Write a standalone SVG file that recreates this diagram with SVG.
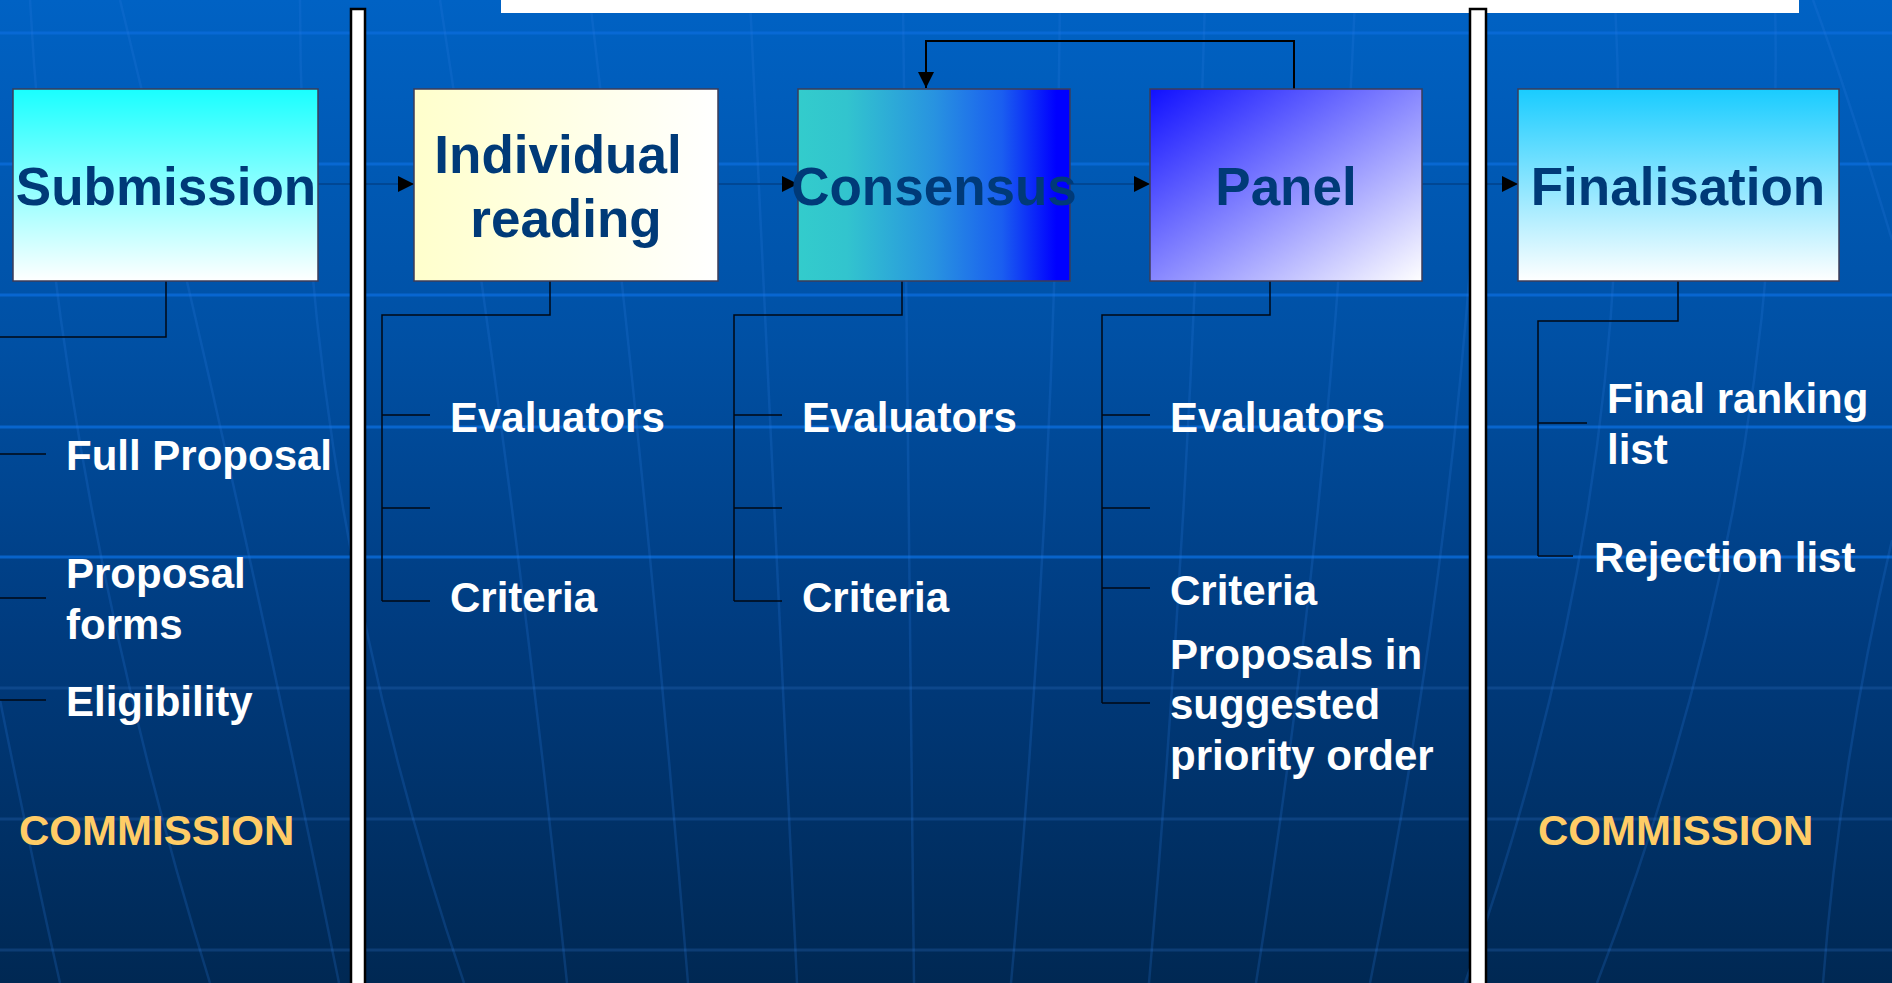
<svg xmlns="http://www.w3.org/2000/svg" width="1892" height="983" viewBox="0 0 1892 983">
  <defs>
    <linearGradient id="bg" x1="0" y1="0" x2="0" y2="1">
      <stop offset="0" stop-color="#0062C4"/>
      <stop offset="0.35" stop-color="#0050A4"/>
      <stop offset="0.65" stop-color="#003B7E"/>
      <stop offset="1" stop-color="#002853"/>
    </linearGradient>
    <linearGradient id="gSub" x1="0" y1="0" x2="0" y2="1">
      <stop offset="0" stop-color="#19FFFF"/>
      <stop offset="1" stop-color="#FFFFFF"/>
    </linearGradient>
    <linearGradient id="gInd" x1="0" y1="0" x2="1" y2="0">
      <stop offset="0" stop-color="#FFFFCC"/>
      <stop offset="1" stop-color="#FFFFFF"/>
    </linearGradient>
    <linearGradient id="gCon" x1="0" y1="0" x2="1" y2="0">
      <stop offset="0" stop-color="#33CCCC"/>
      <stop offset="0.18" stop-color="#32C4CE"/>
      <stop offset="0.5" stop-color="#2893E0"/>
      <stop offset="0.75" stop-color="#1A5EF0"/>
      <stop offset="0.95" stop-color="#0000FF"/>
      <stop offset="1" stop-color="#0000FF"/>
    </linearGradient>
    <linearGradient id="gPan" x1="0" y1="0" x2="1" y2="1">
      <stop offset="0" stop-color="#1010FF"/>
      <stop offset="1" stop-color="#FFFFFF"/>
    </linearGradient>
    <linearGradient id="gFin" x1="0" y1="0" x2="0" y2="1">
      <stop offset="0" stop-color="#19CCFF"/>
      <stop offset="1" stop-color="#FFFFFF"/>
    </linearGradient>
    <marker id="arr" markerUnits="userSpaceOnUse" markerWidth="16" markerHeight="16" refX="16" refY="8" orient="auto">
      <path d="M0,0 L16,8 L0,16 Z" fill="#000000"/>
    </marker>
  </defs>
  <style>
    .mer { fill: none; stroke: #2A7AE0; stroke-opacity: 0.22; stroke-width: 2.5; }
    .hl { stroke: #0A6CDA; stroke-width: 3; stroke-opacity: 0.8; }
    .hl2 { stroke: #2A6AB8; stroke-width: 3; stroke-opacity: 0.3; }
    .box { stroke: #3C3C58; stroke-width: 1.5; }
    .title { font-family: "Liberation Sans", Arial, sans-serif; font-weight: bold; font-size: 53px; fill: #003A78; text-anchor: middle; }
    .lbl { font-family: "Liberation Sans", Arial, sans-serif; font-weight: bold; font-size: 42px; fill: #FFFFFF; }
    .comm { font-family: "Liberation Sans", Arial, sans-serif; font-weight: bold; font-size: 42px; fill: #FFCC66; }
    .tree { fill: none; stroke: #000814; stroke-width: 1.5; }
    .flow { fill: none; stroke: #00428A; stroke-width: 1.5; }
    .fb { fill: none; stroke: #000000; stroke-width: 2; }
    .sep { fill: #FFFFFF; stroke: #000000; stroke-width: 2.5; }
  </style>

  <!-- background -->
  <rect x="0" y="0" width="1892" height="983" fill="url(#bg)"/>
  <g id="background-grid">
    <line class="hl" x1="0" y1="33" x2="1892" y2="33"/>
    <line class="hl" x1="0" y1="164" x2="1892" y2="164"/>
    <line class="hl" x1="0" y1="295" x2="1892" y2="295"/>
    <line class="hl" x1="0" y1="427" x2="1892" y2="427"/>
    <line class="hl" x1="0" y1="557" x2="1892" y2="557"/>
    <line class="hl2" x1="0" y1="688" x2="1892" y2="688"/>
    <line class="hl2" x1="0" y1="819" x2="1892" y2="819"/>
    <line class="hl2" x1="0" y1="950" x2="1892" y2="950"/>
    <path class="mer" d="M30,0 Q57,491 210,983"/>
    <path class="mer" d="M120,0 Q240,491 339,983"/>
    <path class="mer" d="M300,0 Q300,500 464,983"/>
    <path class="mer" d="M440,0 Q516,491 567,983"/>
    <path class="mer" d="M590,0 Q648,491 688,983"/>
    <path class="mer" d="M750,0 Q772,491 797,983"/>
    <path class="mer" d="M903,0 Q909,491 914,983"/>
    <path class="mer" d="M1060,0 Q1056,491 1011,983"/>
    <path class="mer" d="M1205,0 Q1192,491 1149,983"/>
    <path class="mer" d="M1355,0 Q1334,491 1256,983"/>
    <path class="mer" d="M1485,0 Q1469,491 1370,983"/>
    <path class="mer" d="M1615,0 Q1641,491 1465,983"/>
    <path class="mer" d="M1775,0 Q1787,491 1597,983"/>
    <path class="mer" d="M1813,0 Q1850,100 1892,240"/>
    <path class="mer" d="M1892,540 Q1840,760 1823,983"/>
    <path class="mer" d="M0,700 Q30,850 60,983"/>
  </g>

  <!-- connectors -->
  <g id="connectors">
    <path class="flow" d="M318,184 H414" marker-end="url(#arr)"/>
    <path class="flow" d="M718,184 H798" marker-end="url(#arr)"/>
    <path class="flow" d="M1070,184 H1150" marker-end="url(#arr)"/>
    <path class="flow" d="M1422,184 H1518" marker-end="url(#arr)"/>
    <path class="fb" d="M1294,89 V41 H926 V88" marker-end="url(#arr)"/>
    <!-- Submission tree -->
    <path class="tree" d="M166,281 V337 H0"/>
    <path class="tree" d="M0,454 H46 M0,598 H46 M0,700 H46"/>
    <!-- Individual reading tree -->
    <path class="tree" d="M550,281 V315 H382 V601"/>
    <path class="tree" d="M382,415 H430 M382,508 H430 M382,601 H430"/>
    <!-- Consensus tree -->
    <path class="tree" d="M902,281 V315 H734 V601"/>
    <path class="tree" d="M734,415 H782 M734,508 H782 M734,601 H782"/>
    <!-- Panel tree -->
    <path class="tree" d="M1270,281 V315 H1102 V703"/>
    <path class="tree" d="M1102,415 H1150 M1102,508 H1150 M1102,588 H1150 M1102,703 H1150"/>
    <!-- Finalisation tree -->
    <path class="tree" d="M1678,281 V321 H1538 V556"/>
    <path class="tree" d="M1538,423 H1587 M1538,556 H1573"/>
  </g>

  <!-- separators -->
  <g id="separators">
    <rect x="501" y="0" width="1298" height="13" fill="#FFFFFF"/>
    <rect class="sep" x="351" y="9" width="14" height="990"/>
    <rect class="sep" x="1470" y="9" width="16" height="990"/>
  </g>

  <!-- nodes -->
  <g id="node-submission">
    <rect class="box" x="13" y="89" width="305" height="192" fill="url(#gSub)"/>
    <text class="title" x="166" y="205">Submission</text>
  </g>
  <g id="node-individual-reading">
    <rect class="box" x="414" y="89" width="304" height="192" fill="url(#gInd)"/>
    <text class="title" x="558" y="173">Individual</text>
    <text class="title" x="566" y="237">reading</text>
  </g>
  <g id="node-consensus">
    <rect class="box" x="798" y="89" width="272" height="192" fill="url(#gCon)" stroke="#1A2A6A"/>
    <text class="title" x="934" y="205">Consensus</text>
  </g>
  <g id="node-panel">
    <rect class="box" x="1150" y="89" width="272" height="192" fill="url(#gPan)"/>
    <text class="title" x="1286" y="205">Panel</text>
  </g>
  <g id="node-finalisation">
    <rect class="box" x="1518" y="89" width="321" height="192" fill="url(#gFin)"/>
    <text class="title" x="1678" y="205">Finalisation</text>
  </g>

  <!-- labels -->
  <g id="labels-submission">
    <text class="lbl" x="66" y="470">Full Proposal</text>
    <text class="lbl" x="66" y="588">Proposal</text>
    <text class="lbl" x="66" y="639">forms</text>
    <text class="lbl" x="66" y="716">Eligibility</text>
    <text class="comm" x="19" y="845">COMMISSION</text>
  </g>
  <g id="labels-individual">
    <text class="lbl" x="450" y="432">Evaluators</text>
    <text class="lbl" x="450" y="612">Criteria</text>
  </g>
  <g id="labels-consensus">
    <text class="lbl" x="802" y="432">Evaluators</text>
    <text class="lbl" x="802" y="612">Criteria</text>
  </g>
  <g id="labels-panel">
    <text class="lbl" x="1170" y="432">Evaluators</text>
    <text class="lbl" x="1170" y="605">Criteria</text>
    <text class="lbl" x="1170" y="669">Proposals in</text>
    <text class="lbl" x="1170" y="719">suggested</text>
    <text class="lbl" x="1170" y="770">priority order</text>
  </g>
  <g id="labels-finalisation">
    <text class="lbl" x="1607" y="413">Final ranking</text>
    <text class="lbl" x="1607" y="464">list</text>
    <text class="lbl" x="1594" y="572">Rejection list</text>
    <text class="comm" x="1538" y="845">COMMISSION</text>
  </g>
</svg>
